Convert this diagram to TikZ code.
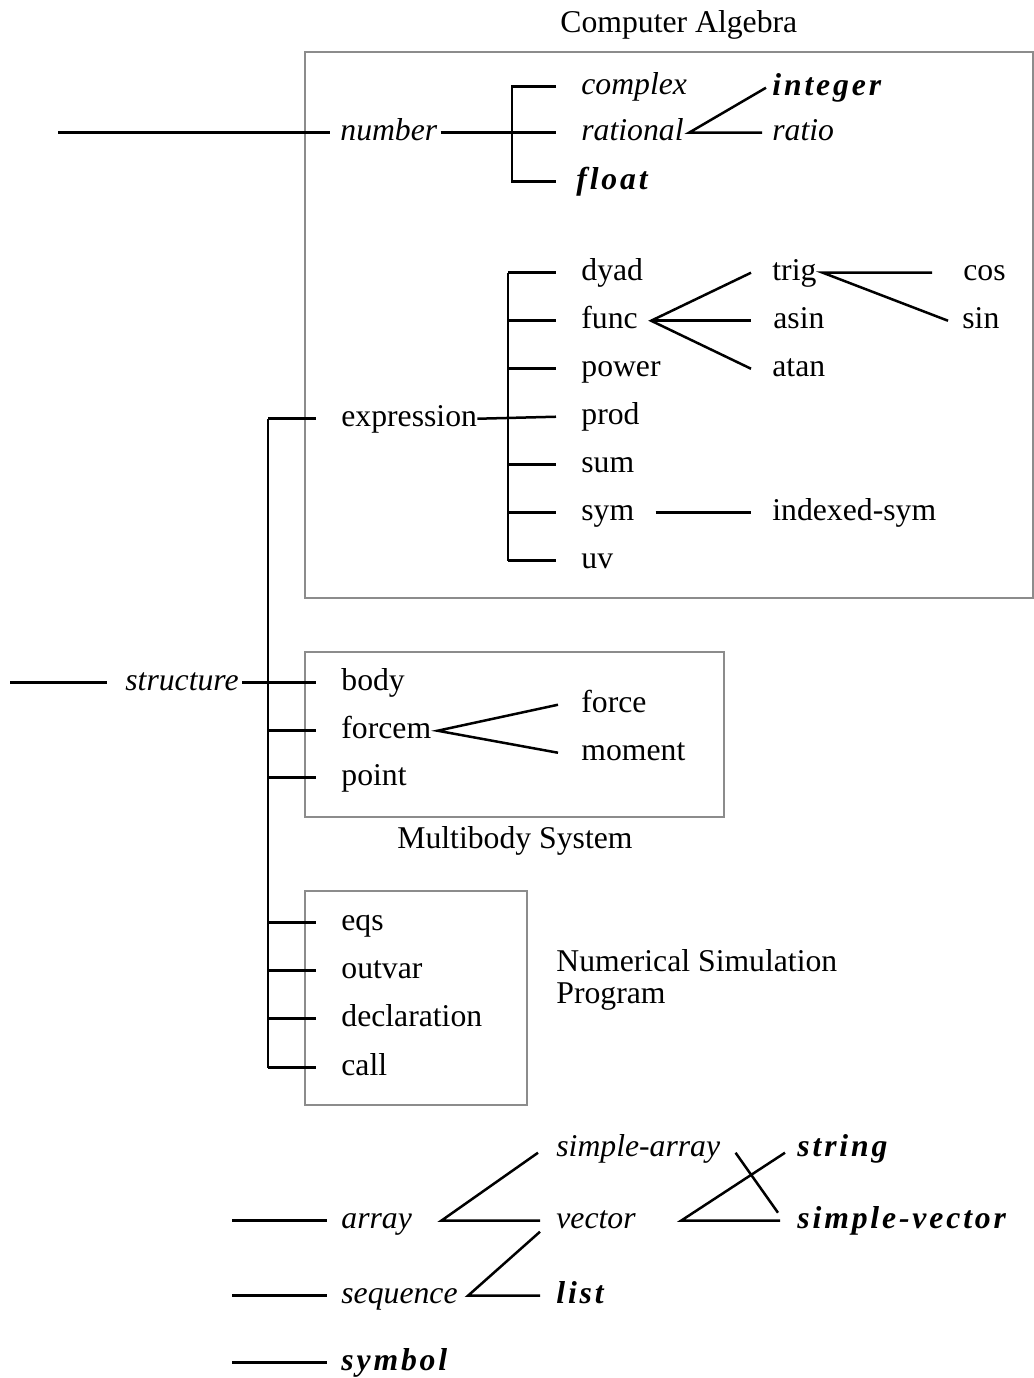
\documentclass[tikz,border=0pt]{standalone}
\usepackage{fontspec}
\setmainfont{Liberation Serif}
\newfontfamily\bifont[LetterSpace=9]{Liberation Serif}
\usetikzlibrary{calc}
\definecolor{boxgray}{RGB}{140,140,140}
\begin{document}
\fontsize{15.85}{19}\selectfont
\begin{tikzpicture}[x=0.5pt,y=-0.5pt,
  lbl/.style={anchor=base west,inner sep=0pt,font=\fontsize{15.85}{19}\selectfont},
  it/.style={lbl,font=\fontsize{15.85}{19}\selectfont\itshape},
  bi/.style={lbl,font=\fontsize{15.85}{19}\bifont\bfseries\itshape},
  conn/.style={line width=1.25pt,black},
  grp/.style={draw=boxgray,line width=1pt}]
\useasboundingbox (0,0) rectangle (1034,1378);

% group boxes
\draw[grp] (305,52) rectangle (1033,598);
\draw[grp] (305,652) rectangle (724,817);
\draw[grp] (305,891) rectangle (527,1105);

% group captions
\node[lbl] (capCA) at (560,32) {Computer Algebra};
\node[lbl] (capMB) at (397,848) {Multibody System};
\node[lbl,align=left,anchor=north west,font=\fontsize{15.85}{16}\selectfont] (capNS) at (556,949) {Numerical Simulation\\Program};

% number branch
\node[it] (number) at (340,140) {number};
\node[it] (complex) at (581,94) {complex};
\node[it] (rational) at (581,140) {rational};
\node[bi] (float) at (576,189) {float};
\node[bi] (integer) at (772,95) {integer};
\node[it] (ratio) at (772,140) {ratio};

% expression branch
\node[lbl] (expression) at (341,426) {expression};
\node[lbl] (dyad) at (581,280) {dyad};
\node[lbl] (func) at (581,328) {func};
\node[lbl] (power) at (581,376) {power};
\node[lbl] (prod) at (581,424) {prod};
\node[lbl] (sum) at (581,472) {sum};
\node[lbl] (sym) at (581,520) {sym};
\node[lbl] (uv) at (581,568) {uv};
\node[lbl] (trig) at (772,280) {trig};
\node[lbl] (asin) at (773,328) {asin};
\node[lbl] (atan) at (772,376) {atan};
\node[lbl] (cos) at (963,280) {cos};
\node[lbl] (sin) at (962,328) {sin};
\node[lbl] (isym) at (772,520) {indexed-sym};

% structure / multibody
\node[it] (structure) at (125,690) {structure};
\node[lbl] (body) at (341,690) {body};
\node[lbl] (forcem) at (341,738) {forcem};
\node[lbl] (point) at (341,785) {point};
\node[lbl] (force) at (581,712) {force};
\node[lbl] (moment) at (581,760) {moment};

% numerical simulation
\node[lbl] (eqs) at (341,930) {eqs};
\node[lbl] (outvar) at (341,978) {outvar};
\node[lbl] (decl) at (341,1026) {declaration};
\node[lbl] (call) at (341,1075) {call};

% bottom
\node[it] (array) at (341,1228) {array};
\node[it] (sequence) at (341,1303) {sequence};
\node[bi] (symbol) at (341,1370) {symbol};
\node[it] (sarray) at (556,1156) {simple-array};
\node[it] (vector) at (556,1228) {vector};
\node[bi] (list) at (556,1303) {list};
\node[bi] (string) at (797,1156) {string};
\node[bi] (svector) at (797,1228) {simple-vector};

% junction x references
\coordinate (jn) at (512,0);
\coordinate (je) at (508,0);
\coordinate (jm) at (268,0);
\coordinate (numin) at (58,0);
\coordinate (strin) at (10,0);
\coordinate (botin) at (232,0);

% number connectors
\draw[conn] (numin |- number.mid) -- ($(number.mid west)+(-10,0)$);
\draw[conn] ($(number.mid east)+(3,0)$) -- ($(rational.mid west)+(-25,0)$);
\draw[conn] ($(complex.mid west)+(-25,0)$) -- (jn |- complex.mid) -- (jn |- float.mid) -- ($(float.mid west)+(-20,0)$);
\draw[conn] ($(integer.mid west)+(-6,0)$) -- ($(rational.mid east)+(5,0)$) -- ($(ratio.mid west)+(-10,0)$);

% structure main bar
\draw[conn] (strin |- structure.mid) -- ($(structure.mid west)+(-18,0)$);
\draw[conn] ($(structure.mid east)+(3,0)$) -- ($(body.mid west)+(-25,0)$);
\draw[conn] (jm |- expression.mid) -- (jm |- call.mid);
\foreach \n in {expression,forcem,point,eqs,outvar,decl,call}
  \draw[conn] (jm |- \n.mid) -- ($(\n.mid west)+(-25,0)$);

% expression connectors
\draw[conn] (expression.mid east) -- ($(prod.mid west)+(-25,0)$);
\draw[conn] (je |- dyad.mid) -- (je |- uv.mid);
\foreach \n in {dyad,func,power,sum,sym,uv}
  \draw[conn] (je |- \n.mid) -- ($(\n.mid west)+(-25,0)$);
\draw[conn] ($(trig.mid west)+(-21,0)$) -- ($(func.mid east)+(13,0)$) -- ($(atan.mid west)+(-21,0)$);
\draw[conn] ($(func.mid east)+(13,0)$) -- ($(asin.mid west)+(-22,0)$);
\draw[conn] ($(cos.mid west)+(-31,0)$) -- ($(trig.mid east)+(6,0)$) -- ($(sin.mid west)+(-14,0)$);
\draw[conn] ($(sym.mid east)+(21,0)$) -- ($(isym.mid west)+(-21,0)$);

% multibody
\draw[conn] ($(force.mid west)+(-23,0)$) -- ($(forcem.mid east)+(6,0)$) -- ($(moment.mid west)+(-23,0)$);

% bottom connectors
\draw[conn] (botin |- array.mid) -- ($(array.mid west)+(-14,0)$);
\draw[conn] (botin |- sequence.mid) -- ($(sequence.mid west)+(-14,0)$);
\draw[conn] (botin |- symbol.mid) -- ($(symbol.mid west)+(-14,0)$);
\draw[conn] ($(sarray.mid west)+(-18,4)$) -- ($(array.mid east)+(29,0)$) -- ($(vector.mid west)+(-16,0)$);
\draw[conn] ($(vector.mid west)+(-16,11)$) -- ($(sequence.mid east)+(10,0)$) -- ($(list.mid west)+(-16,0)$);
\draw[conn] ($(string.mid west)+(-12,4)$) -- ($(vector.mid east)+(45,0)$) -- ($(svector.mid west)+(-17,0)$);
\draw[conn] ($(sarray.mid east)+(15,4)$) -- ($(svector.mid west)+(-19,-8)$);
\end{tikzpicture}
\end{document}
